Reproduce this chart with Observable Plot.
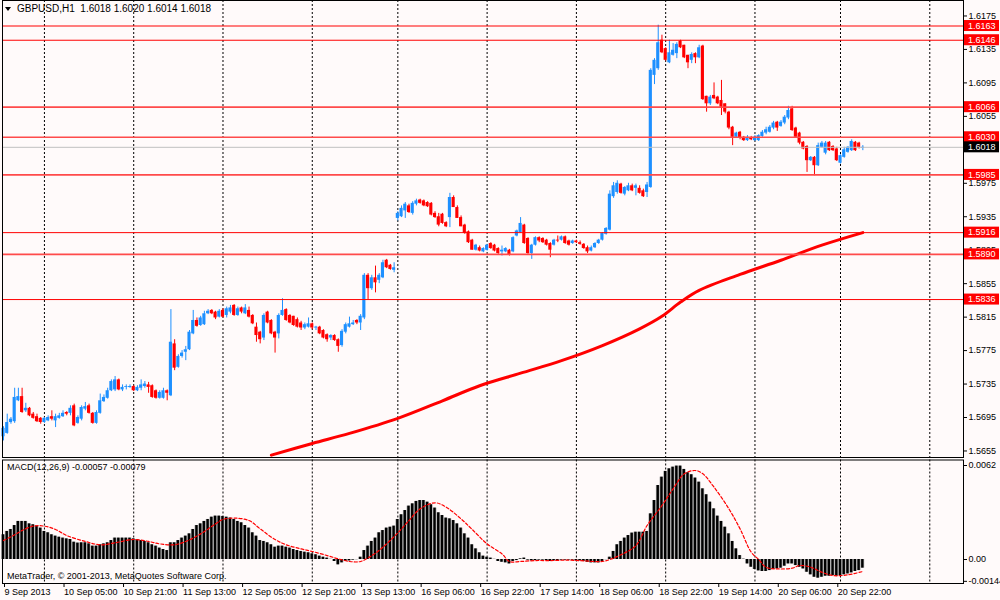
<!DOCTYPE html>
<html><head><meta charset="utf-8">
<script src="https://cdn.jsdelivr.net/npm/d3@7"></script>
<script src="https://cdn.jsdelivr.net/npm/@observablehq/plot@0.6"></script>
<style>
html,body{margin:0;padding:0;background:#fffafa;}
#wrap{position:relative;width:1000px;height:600px;overflow:hidden;background:#fffafa;font-family:Tahoma,"Liberation Sans",Arial,sans-serif;font-size:9px;color:#000;}
#wrap svg{position:absolute;left:0;}
.lbl{position:absolute;white-space:pre;line-height:12px;font-size:9px;z-index:5;}
.ttl{font-size:10px;}
.tri{position:absolute;left:5px;top:7px;width:0;height:0;border-left:3.5px solid transparent;border-right:3.5px solid transparent;border-top:4.5px solid #000;z-index:5;}
</style></head><body>
<div id="wrap"></div>
<script>
// ---------- data ----------
const open = [1.5672,1.5676,1.5689,1.5690,1.5715,1.5720,1.5703,1.5706,1.5699,1.5696,
1.5694,1.5689,1.5691,1.5696,1.5691,1.5694,1.5696,1.5701,1.5700,1.5709,
1.5688,1.5693,1.5705,1.5709,1.5700,1.5688,1.5700,1.5714,1.5718,1.5727,
1.5728,1.5740,1.5728,1.5731,1.5732,1.5732,1.5727,1.5730,1.5732,1.5734,
1.5733,1.5727,1.5718,1.5718,1.5727,1.5721,1.5783,1.5755,1.5768,1.5773,
1.5776,1.5795,1.5811,1.5805,1.5806,1.5819,1.5823,1.5821,1.5815,1.5823,
1.5817,1.5821,1.5829,1.5817,1.5826,1.5819,1.5823,1.5817,1.5803,1.5797,
1.5790,1.5821,1.5811,1.5797,1.5795,1.5817,1.5824,1.5817,1.5816,1.5812,
1.5808,1.5802,1.5803,1.5807,1.5802,1.5803,1.5799,1.5794,1.5790,1.5793,
1.5788,1.5781,1.5797,1.5803,1.5806,1.5811,1.5808,1.5814,1.5865,1.5849,
1.5862,1.5859,1.5862,1.5883,1.5877,1.5871,1.5933,1.5935,1.5942,1.5948,
1.5939,1.5950,1.5955,1.5954,1.5952,1.5951,1.5939,1.5935,1.5938,1.5928,
1.5934,1.5958,1.5946,1.5934,1.5925,1.5917,1.5907,1.5895,1.5898,1.5893,
1.5895,1.5903,1.5901,1.5897,1.5893,1.5893,1.5895,1.5893,1.5912,1.5916,
1.5925,1.5909,1.5891,1.5901,1.5910,1.5909,1.5907,1.5903,1.5901,1.5907,
1.5907,1.5911,1.5906,1.5903,1.5906,1.5904,1.5902,1.5898,1.5894,1.5898,
1.5903,1.5907,1.5914,1.5919,1.5959,1.5964,1.5974,1.5962,1.5966,1.5972,
1.5969,1.5969,1.5966,1.5964,1.5970,1.6104,1.6112,1.6146,1.6136,1.6119,
1.6128,1.6130,1.6145,1.6140,1.6128,1.6122,1.6130,1.6125,1.6139,1.6079,
1.6070,1.6080,1.6078,1.6074,1.6070,1.6060,1.6042,1.6030,1.6036,1.6030,
1.6026,1.6029,1.6026,1.6026,1.6031,1.6035,1.6036,1.6041,1.6048,1.6043,
1.6047,1.6053,1.6064,1.6041,1.6035,1.6024,1.6019,1.6002,1.6006,1.5996,
1.6018,1.6011,1.6024,1.6019,1.6016,1.5999,1.6006,1.6012,1.6014,1.6024,
1.6023,1.6018];
const high = [1.5684,1.5699,1.5695,1.5730,1.5730,1.5730,1.5712,1.5707,1.5701,1.5699,
1.5695,1.5695,1.5697,1.5703,1.5699,1.5700,1.5703,1.5702,1.5709,1.5711,
1.5697,1.5709,1.5713,1.5711,1.5701,1.5703,1.5723,1.5722,1.5730,1.5740,
1.5744,1.5741,1.5734,1.5734,1.5734,1.5733,1.5733,1.5740,1.5738,1.5737,
1.5734,1.5728,1.5727,1.5730,1.5728,1.5824,1.5788,1.5770,1.5775,1.5780,
1.5799,1.5823,1.5814,1.5816,1.5822,1.5824,1.5824,1.5822,1.5824,1.5825,
1.5827,1.5829,1.5830,1.5827,1.5827,1.5830,1.5827,1.5818,1.5808,1.5798,
1.5819,1.5822,1.5812,1.5798,1.5819,1.5837,1.5825,1.5818,1.5816,1.5814,
1.5810,1.5808,1.5814,1.5808,1.5804,1.5804,1.5800,1.5795,1.5794,1.5794,
1.5789,1.5800,1.5808,1.5815,1.5811,1.5812,1.5818,1.5867,1.5867,1.5865,
1.5876,1.5867,1.5883,1.5884,1.5878,1.5880,1.5941,1.5948,1.5952,1.5950,
1.5953,1.5956,1.5956,1.5955,1.5953,1.5952,1.5941,1.5939,1.5939,1.5929,
1.5963,1.5960,1.5948,1.5936,1.5926,1.5918,1.5908,1.5902,1.5900,1.5898,
1.5902,1.5904,1.5902,1.5898,1.5900,1.5898,1.5896,1.5911,1.5919,1.5934,
1.5926,1.5910,1.5902,1.5911,1.5911,1.5910,1.5908,1.5904,1.5908,1.5912,
1.5912,1.5912,1.5907,1.5907,1.5907,1.5906,1.5903,1.5900,1.5900,1.5904,
1.5908,1.5916,1.5922,1.5966,1.5976,1.5978,1.5975,1.5971,1.5975,1.5974,
1.5974,1.5972,1.5968,1.5976,1.6112,1.6124,1.6164,1.6152,1.6137,1.6146,
1.6142,1.6143,1.6146,1.6140,1.6128,1.6131,1.6131,1.6140,1.6140,1.6079,
1.6080,1.6095,1.6079,1.6098,1.6070,1.6061,1.6043,1.6036,1.6037,1.6031,
1.6032,1.6031,1.6032,1.6033,1.6038,1.6042,1.6044,1.6049,1.6049,1.6050,
1.6056,1.6067,1.6067,1.6042,1.6036,1.6025,1.6020,1.6007,1.6007,1.6023,
1.6025,1.6025,1.6025,1.6020,1.6018,1.6009,1.6018,1.6019,1.6027,1.6025,
1.6024,1.6020];
const low = [1.5667,1.5675,1.5687,1.5688,1.5714,1.5700,1.5701,1.5696,1.5693,1.5689,
1.5687,1.5688,1.5690,1.5691,1.5683,1.5693,1.5695,1.5697,1.5697,1.5684,
1.5687,1.5691,1.5703,1.5699,1.5687,1.5687,1.5699,1.5713,1.5717,1.5726,
1.5726,1.5727,1.5726,1.5728,1.5730,1.5726,1.5726,1.5727,1.5730,1.5724,
1.5718,1.5717,1.5717,1.5717,1.5715,1.5720,1.5751,1.5754,1.5766,1.5763,
1.5775,1.5794,1.5803,1.5804,1.5805,1.5818,1.5818,1.5812,1.5814,1.5814,
1.5814,1.5819,1.5816,1.5816,1.5819,1.5818,1.5814,1.5806,1.5785,1.5783,
1.5787,1.5807,1.5794,1.5772,1.5789,1.5816,1.5810,1.5807,1.5804,1.5802,
1.5799,1.5800,1.5802,1.5800,1.5799,1.5794,1.5789,1.5785,1.5787,1.5786,
1.5773,1.5779,1.5795,1.5802,1.5805,1.5806,1.5799,1.5812,1.5835,1.5847,
1.5844,1.5855,1.5861,1.5873,1.5871,1.5868,1.5930,1.5934,1.5933,1.5939,
1.5937,1.5948,1.5950,1.5947,1.5946,1.5936,1.5933,1.5923,1.5926,1.5922,
1.5922,1.5946,1.5933,1.5923,1.5914,1.5903,1.5895,1.5894,1.5893,1.5892,
1.5894,1.5896,1.5893,1.5890,1.5888,1.5892,1.5888,1.5892,1.5911,1.5915,
1.5902,1.5890,1.5884,1.5900,1.5904,1.5903,1.5900,1.5886,1.5900,1.5904,
1.5906,1.5902,1.5900,1.5902,1.5903,1.5901,1.5896,1.5891,1.5893,1.5897,
1.5902,1.5906,1.5913,1.5918,1.5957,1.5962,1.5962,1.5960,1.5965,1.5965,
1.5960,1.5962,1.5958,1.5958,1.5969,1.6093,1.6110,1.6130,1.6121,1.6118,
1.6127,1.6124,1.6136,1.6124,1.6112,1.6118,1.6118,1.6124,1.6074,1.6060,
1.6068,1.6075,1.6069,1.6056,1.6058,1.6039,1.6020,1.6029,1.6027,1.6025,
1.6025,1.6026,1.6025,1.6025,1.6030,1.6033,1.6035,1.6039,1.6037,1.6042,
1.6045,1.6051,1.6037,1.6029,1.6021,1.6015,1.5988,1.6001,1.5984,1.5995,
1.6017,1.6009,1.6013,1.6013,1.6001,1.5998,1.6005,1.6011,1.6013,1.6013,
1.6016,1.6014];
const close = [1.5682,1.5689,1.5693,1.5719,1.5720,1.5701,1.5706,1.5697,1.5694,1.5690,
1.5689,1.5694,1.5695,1.5693,1.5696,1.5697,1.5700,1.5699,1.5706,1.5685,
1.5695,1.5707,1.5708,1.5700,1.5688,1.5701,1.5715,1.5719,1.5727,1.5738,
1.5740,1.5728,1.5731,1.5732,1.5732,1.5727,1.5731,1.5734,1.5735,1.5731,
1.5719,1.5718,1.5725,1.5727,1.5724,1.5785,1.5754,1.5768,1.5772,1.5776,
1.5797,1.5811,1.5804,1.5814,1.5819,1.5822,1.5819,1.5814,1.5822,1.5815,
1.5825,1.5826,1.5817,1.5825,1.5821,1.5826,1.5815,1.5807,1.5793,1.5788,
1.5817,1.5808,1.5795,1.5790,1.5817,1.5823,1.5811,1.5808,1.5805,1.5803,
1.5802,1.5806,1.5807,1.5802,1.5803,1.5795,1.5790,1.5788,1.5793,1.5787,
1.5780,1.5798,1.5806,1.5807,1.5808,1.5808,1.5816,1.5865,1.5849,1.5862,
1.5856,1.5865,1.5880,1.5874,1.5872,1.5874,1.5939,1.5945,1.5950,1.5940,
1.5951,1.5954,1.5951,1.5948,1.5947,1.5937,1.5934,1.5925,1.5927,1.5923,
1.5958,1.5946,1.5933,1.5923,1.5915,1.5904,1.5895,1.5901,1.5894,1.5897,
1.5901,1.5897,1.5894,1.5891,1.5895,1.5897,1.5889,1.5910,1.5918,1.5927,
1.5903,1.5891,1.5901,1.5910,1.5906,1.5904,1.5901,1.5895,1.5907,1.5906,
1.5911,1.5903,1.5901,1.5906,1.5904,1.5902,1.5897,1.5893,1.5898,1.5903,
1.5907,1.5915,1.5921,1.5962,1.5972,1.5975,1.5963,1.5970,1.5972,1.5966,
1.5972,1.5963,1.5959,1.5973,1.6110,1.6122,1.6143,1.6131,1.6122,1.6131,
1.6134,1.6141,1.6137,1.6125,1.6119,1.6129,1.6125,1.6137,1.6075,1.6070,
1.6078,1.6076,1.6070,1.6066,1.6060,1.6041,1.6030,1.6035,1.6029,1.6026,
1.6030,1.6027,1.6030,1.6032,1.6036,1.6039,1.6042,1.6047,1.6041,1.6048,
1.6054,1.6062,1.6038,1.6030,1.6023,1.6016,1.6002,1.6006,1.5996,1.6020,
1.6023,1.6023,1.6014,1.6014,1.6002,1.6008,1.6015,1.6018,1.6025,1.6014,
1.6018,1.6018];

const maIndex = [72,83,93,106,118,128,139,150,161,171,177,182,187,198,209,220,231];
const maValue = [1.5650,1.5664,1.5676,1.5694,1.5715,1.5733,1.5748,1.5763,1.5781,1.5801,1.5816,1.5833,1.5847,1.5866,1.5883,1.5901,1.5916];

const levelsThin = [1.6163,1.6146,1.5916,1.5836];
const levelsSoft = [1.6066,1.6030,1.5985,1.5890];
const currentPrice = 1.6018;
const priceTicks = [1.6175,1.6135,1.6095,1.6055,1.5975,1.5935,1.5895,1.5855,1.5815,1.5775,1.5735,1.5695,1.5655];

const macdHist = [0.00163,0.00185,0.00198,0.00224,0.00251,0.00251,0.00251,0.00235,0.00229,0.00220,
0.00207,0.00185,0.00176,0.00163,0.00154,0.00147,0.00141,0.00136,0.00132,0.00114,
0.00108,0.00110,0.00110,0.00103,0.00088,0.00088,0.00097,0.00103,0.00110,0.00125,
0.00141,0.00141,0.00141,0.00141,0.00141,0.00136,0.00132,0.00125,0.00119,0.00110,
0.00097,0.00088,0.00075,0.00066,0.00059,0.00110,0.00110,0.00125,0.00141,0.00154,
0.00169,0.00198,0.00224,0.00235,0.00251,0.00264,0.00279,0.00286,0.00286,0.00284,
0.00279,0.00273,0.00264,0.00251,0.00242,0.00224,0.00207,0.00176,0.00154,0.00125,
0.00119,0.00110,0.00097,0.00081,0.00088,0.00088,0.00081,0.00075,0.00066,0.00059,
0.00053,0.00048,0.00044,0.00037,0.00031,0.00022,0.00015,0.00009,0.00001,-0.00013,
-0.00035,-0.00022,-0.00013,-0.00009,-0.00004,-0.00001,0.00015,0.00059,0.00088,0.00119,
0.00141,0.00176,0.00191,0.00207,0.00213,0.00220,0.00264,0.00295,0.00323,0.00352,
0.00367,0.00383,0.00389,0.00389,0.00378,0.00361,0.00339,0.00308,0.00290,0.00273,
0.00268,0.00257,0.00235,0.00207,0.00169,0.00141,0.00097,0.00070,0.00044,0.00022,
0.00015,0.00009,0.00001,-0.00013,-0.00018,-0.00022,-0.00029,-0.00013,-0.00007,0.00004,
0.00009,-0.00004,-0.00009,-0.00007,-0.00004,-0.00004,-0.00007,-0.00013,-0.00009,-0.00007,
-0.00004,-0.00004,-0.00004,-0.00004,-0.00009,-0.00009,-0.00013,-0.00018,-0.00022,-0.00022,
-0.00022,-0.00013,-0.00001,0.00015,0.00053,0.00097,0.00119,0.00141,0.00158,0.00174,
0.00180,0.00180,0.00180,0.00185,0.00301,0.00389,0.00488,0.00543,0.00581,0.00598,
0.00609,0.00616,0.00616,0.00594,0.00572,0.00559,0.00537,0.00510,0.00466,0.00427,
0.00378,0.00334,0.00286,0.00251,0.00213,0.00169,0.00119,0.00070,0.00026,0.00002,
-0.00029,-0.00051,-0.00066,-0.00075,-0.00079,-0.00079,-0.00073,-0.00066,-0.00062,-0.00057,
-0.00044,-0.00029,-0.00029,-0.00040,-0.00051,-0.00062,-0.00084,-0.00101,-0.00117,-0.00123,
-0.00117,-0.00110,-0.00110,-0.00106,-0.00110,-0.00106,-0.00101,-0.00095,-0.00088,-0.00079,
-0.00073,-0.00057];

const signalIndex = [0,3,5,8,11,14,17,22,26,30,35,39,42,46,49,53,57,59,62,66,69,73,76,80,83,87,90,93,96,99,102,106,109,112,116,119,123,126,130,134,136,139,143,147,152,156,161,163,166,170,173,177,180,183,186,188,191,195,198,201,203,205,208,212,214,217,220,223,227,231];
const signalValue = [0.00125,0.00163,0.00191,0.00220,0.00220,0.00198,0.00158,0.00119,0.00097,0.00110,0.00132,0.00119,0.00103,0.00097,0.00119,0.00169,0.00235,0.00264,0.00273,0.00257,0.00202,0.00132,0.00097,0.00070,0.00053,0.00026,0.00004,-0.00013,-0.00013,0.00026,0.00081,0.00176,0.00257,0.00334,0.00374,0.00345,0.00268,0.00198,0.00103,0.00037,-0.00013,-0.00013,-0.00007,-0.00007,-0.00004,-0.00009,-0.00013,0.00000,0.00031,0.00092,0.00224,0.00356,0.00466,0.00565,0.00587,0.00565,0.00477,0.00334,0.00202,0.00048,0.00000,-0.00051,-0.00062,-0.00057,-0.00040,-0.00051,-0.00084,-0.00106,-0.00101,-0.00079];

const macdTicks = [0.0062, 0, -0.00144];
const macdTickLabels = ["0.0062", "0.00", "-0.00144"];
const timeIndex = [0,16,32,48,64,80,96,112,128,144,160,176,192,208,224];
const timeLabels = ["9 Sep 2013","10 Sep 05:00","10 Sep 21:00","11 Sep 13:00","12 Sep 05:00","12 Sep 21:00","13 Sep 13:00","16 Sep 06:00","16 Sep 22:00","17 Sep 14:00","18 Sep 06:00","18 Sep 22:00","19 Sep 14:00","20 Sep 06:00","20 Sep 22:00"];
const separatorIndex = [11,35,59,83,106,130,154,178,202,225,249];

// ---------- chart ----------
const fontFamily = 'Tahoma, "Liberation Sans", Arial, sans-serif';
const xDomain = [-0.27, 258.06];
const bull = "#1e90ff", bear = "#ff0000";
const candles = close.map((c, i) => ({i, o: open[i], h: high[i], l: low[i], c}));
const colorOf = d => (d.c >= d.o ? bull : bear);
const baseStyle = {background: "transparent", fontFamily, fontSize: "9px", color: "#000", overflow: "visible"};

const main = Plot.plot({
  width: 1000, height: 457,
  marginLeft: 2, marginRight: 37, marginTop: 0, marginBottom: 0,
  style: baseStyle,
  x: {domain: xDomain, axis: null},
  y: {domain: [1.56472, 1.61935]},
  marks: [
    Plot.ruleX(separatorIndex, {stroke: "#000", strokeDasharray: "2,2"}),
    Plot.ruleX(candles, {x: "i", y1: "l", y2: "h", stroke: colorOf}),
    Plot.rect(candles, {x1: d => d.i - 0.42, x2: d => d.i + 0.42, y1: "o", y2: "c", fill: colorOf}),
    Plot.ruleY(candles.filter(d => d.o === d.c), {y: "c", x1: d => d.i - 0.45, x2: d => d.i + 0.45, stroke: colorOf}),
    Plot.line(maIndex.map((x, k) => ({x, y: maValue[k]})), {x: "x", y: "y", stroke: "#ff0000", strokeWidth: 3, curve: "catmull-rom"}),
    Plot.ruleY(levelsThin, {stroke: "#ff0000", strokeWidth: 1}),
    Plot.ruleY(levelsSoft, {stroke: "#ff4a4a", strokeWidth: 1.6}),
    Plot.ruleY([currentPrice], {stroke: "#c0c0c0"}),
    Plot.axisY({anchor: "right", label: null, ticks: priceTicks, tickFormat: d => d.toFixed(4), tickSize: 3, tickPadding: 2}),
    Plot.frame({stroke: "#000"})
  ]
});
main.style.top = "0px";

const macdData = macdHist.map((v, i) => ({i, v}));
const signalData = signalIndex.map((x, k) => ({x, y: signalValue[k]}));
const macdLabelMap = new Map(macdTicks.map((t, k) => [t, macdTickLabels[k]]));
const timeLabelMap = new Map(timeIndex.map((t, k) => [t, timeLabels[k]]));

const macd = Plot.plot({
  width: 1000, height: 143,
  marginLeft: 2, marginRight: 37, marginTop: 2.5, marginBottom: 17,
  style: baseStyle,
  x: {domain: xDomain},
  y: {domain: [-0.001583, 0.006563]},
  marks: [
    Plot.ruleX(separatorIndex, {stroke: "#000", strokeDasharray: "2,2"}),
    Plot.rect(macdData, {x1: d => d.i - 0.5, x2: d => d.i + 0.5, y1: 0, y2: "v", fill: "#a8a8a8"}),
    Plot.rect(macdData, {x1: d => d.i - 0.32, x2: d => d.i + 0.32, y1: 0, y2: "v", fill: "#000"}),
    Plot.line(signalData, {x: "x", y: "y", stroke: "#ff0000", strokeWidth: 1.2, strokeDasharray: "3,2", curve: "catmull-rom"}),
    Plot.axisY({anchor: "right", label: null, ticks: macdTicks, tickFormat: d => macdLabelMap.get(d), tickSize: 3, tickPadding: 2}),
    Plot.axisX({anchor: "bottom", label: null, ticks: timeIndex, tickFormat: d => timeLabelMap.get(d), tickSize: 4, tickPadding: 1, textAnchor: "start", dx: 1}),
    Plot.frame({stroke: "#000"})
  ]
});
macd.style.top = "457px";

const wrap = document.getElementById("wrap");
wrap.appendChild(main);
wrap.appendChild(macd);

// price tags on the right axis, placed with the plot's own y scale
const ys = main.scale("y");
const xs = main.scale("x");
const xRight = xs.apply(xDomain[1]);
const g = d3.select(main).append("g")
  .attr("font-family", fontFamily).attr("font-size", 9).attr("text-anchor", "start");
const tags = [...levelsThin, ...levelsSoft].map(v => ({v, bg: "#ff0000"})).concat([{v: currentPrice, bg: "#000"}]);
for (const t of tags) {
  const y = ys.apply(t.v);
  g.append("rect").attr("x", xRight + 1).attr("y", y - 5.5).attr("width", 35).attr("height", 11).attr("fill", t.bg);
  g.append("text").attr("x", xRight + 5).attr("y", y).attr("dy", "0.35em").attr("text-anchor", "start").attr("fill", "#fff").text(t.v.toFixed(4));
}

// text overlays
function label(text, left, top, cls) {
  const d = document.createElement("div");
  d.className = "lbl" + (cls ? " " + cls : ""); d.textContent = text;
  d.style.left = left + "px"; d.style.top = top + "px";
  wrap.appendChild(d);
}
const tri = document.createElement("div"); tri.className = "tri"; wrap.appendChild(tri);
const last = close.length - 1;
label(`GBPUSD,H1  ${open[last].toFixed(4)} ${high[last].toFixed(4)} ${low[last].toFixed(4)} ${close[last].toFixed(4)}`, 17, 3, "ttl");
label(`MACD(12,26,9) ${macdHist[last].toFixed(5)} ${signalValue[signalValue.length - 1].toFixed(5)}`, 7, 461);
label("MetaTrader, © 2001-2013, MetaQuotes Software Corp.", 7, 570);
</script>
</body></html>
